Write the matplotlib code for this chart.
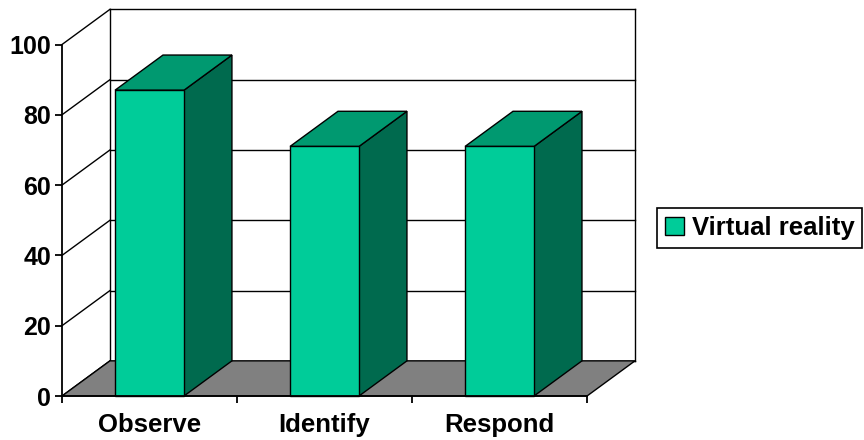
import matplotlib.pyplot as plt
from matplotlib.patches import Polygon, Rectangle

categories = ["Observe", "Identify", "Respond"]
values = [87, 71, 71]
series_name = "Virtual reality"
y_ticks = [0, 20, 40, 60, 80, 100]

FRONT = "#00CC99"
TOP = "#009970"
SIDE = "#006A4E"
FLOOR = "#808080"

# depth offset of the 3d box (category units, value units)
DX, DY = 0.274, 10.0
BAR_W = 0.394
LW = 1.0

plt.rcParams["font.family"] = ["Liberation Sans", "DejaVu Sans"]
plt.rcParams["font.weight"] = "bold"

fig = plt.figure(figsize=(8.64, 4.4), dpi=100)
ax = fig.add_axes([62 / 864, 44 / 440, 573 / 864, 387 / 440])
n = len(categories)
ax.set_xlim(0, n + DX)
ax.set_ylim(0, 100 + DY + 0.1)
ax.set_facecolor("none")

# back wall gridlines and frame
for v in y_ticks:
    ax.plot([DX, n + DX], [v + DY, v + DY], color="black", lw=LW, zorder=1, clip_on=False)
    ax.plot([0, DX], [v, v + DY], color="black", lw=LW, zorder=1, clip_on=False)
ax.plot([DX, DX], [DY, 100 + DY], color="black", lw=LW, zorder=1, clip_on=False)
ax.plot([n + DX, n + DX], [DY, 100 + DY], color="black", lw=LW, zorder=1, clip_on=False)

# floor
ax.add_patch(Polygon([(0, 0), (n, 0), (n + DX, DY), (DX, DY)], closed=True,
                     facecolor=FLOOR, edgecolor="black", lw=LW, zorder=2, clip_on=False))

# bars
for i, v in enumerate(values):
    x0 = i + 0.5 - BAR_W / 2
    x1 = i + 0.5 + BAR_W / 2
    ax.add_patch(Polygon([(x1, 0), (x1 + DX, DY), (x1 + DX, v + DY), (x1, v)], closed=True,
                         facecolor=SIDE, edgecolor="black", lw=LW, zorder=3, clip_on=False))
    ax.add_patch(Polygon([(x0, v), (x1, v), (x1 + DX, v + DY), (x0 + DX, v + DY)], closed=True,
                         facecolor=TOP, edgecolor="black", lw=LW, zorder=3, clip_on=False))
    ax.add_patch(Rectangle((x0, 0), BAR_W, v, facecolor=FRONT, edgecolor="black",
                           lw=LW, zorder=4, clip_on=False))

# front axes
for side in ["top", "right"]:
    ax.spines[side].set_visible(False)
ax.spines["left"].set_bounds(0, 100)
ax.spines["bottom"].set_bounds(0, n)
for side in ["left", "bottom"]:
    ax.spines[side].set_linewidth(1.3)
    ax.spines[side].set_zorder(5)

ax.set_yticks(y_ticks)
ax.set_yticklabels([str(t) for t in y_ticks], fontsize=18, fontweight="bold")
ax.tick_params(axis="y", length=5, width=1.3, pad=3)

ax.set_xticks(range(n + 1))
ax.set_xticklabels([])
ax.set_xticks([i + 0.5 for i in range(n)], minor=True)
ax.set_xticklabels(categories, minor=True, fontsize=18.5, fontweight="bold")
ax.tick_params(axis="x", which="major", length=5, width=1.3)
ax.tick_params(axis="x", which="minor", length=0, pad=12.5)

handle = Rectangle((0, 0), 1, 1, facecolor=FRONT, edgecolor="black", lw=LW)
leg = fig.legend([handle], [series_name], loc="center", bbox_to_anchor=(0.879, 0.482),
                 fancybox=False, shadow=False, framealpha=1, edgecolor="black",
                 prop={"size": 18.5, "weight": "bold"}, handlelength=0.75, handleheight=0.75,
                 handletextpad=0.3, borderpad=0.3, borderaxespad=0)
leg.get_frame().set_linewidth(1.2)

fig.savefig("out.png", dpi=100)
